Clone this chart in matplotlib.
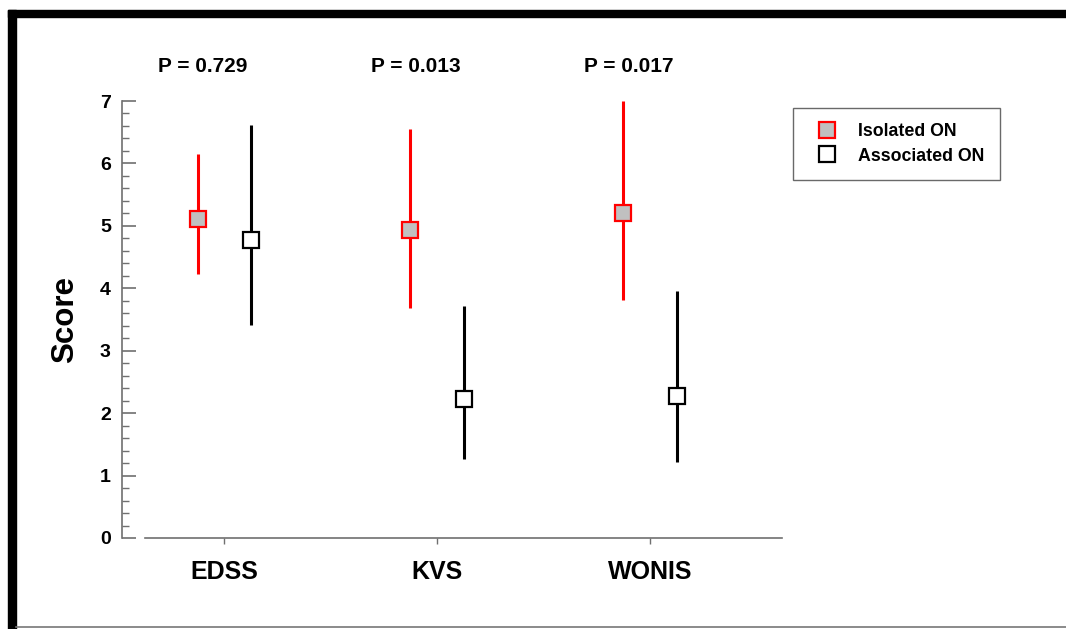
import matplotlib
matplotlib.use("Agg")
import matplotlib.pyplot as plt
from matplotlib.lines import Line2D
from matplotlib.patches import Rectangle
import numpy as np

# --- data ---
categories = ["EDSS", "KVS", "WONIS"]
p_values = ["P = 0.729", "P = 0.013", "P = 0.017"]

iso_mean = [5.11, 4.93, 5.20]
iso_low = [4.23, 3.69, 3.81]
iso_high = [6.15, 6.55, 7.00]

assoc_mean = [4.78, 2.23, 2.28]
assoc_low = [3.41, 1.26, 1.22]
assoc_high = [6.62, 3.71, 3.96]

plt.rcParams["font.family"] = ["Liberation Sans", "DejaVu Sans"]
plt.rcParams["font.weight"] = "bold"

fig = plt.figure(figsize=(10.66, 6.29), dpi=100)
fig.patch.set_facecolor("white")

# frame around the picture
fig.patches.append(Rectangle((8 / 1066, 0), 8 / 1066, 1 - 10 / 629,
                             transform=fig.transFigure, color="black", zorder=0))
fig.patches.append(Rectangle((8 / 1066, 1 - 17 / 629), 1, 7 / 629,
                             transform=fig.transFigure, color="black", zorder=0))
fig.add_artist(Line2D([16 / 1066, 1], [2 / 629, 2 / 629],
                      transform=fig.transFigure, color="#777777", lw=1.2))

ax = fig.add_axes([122 / 1066, 91 / 629, 660 / 1066, 437 / 629])

x = np.arange(1, len(categories) + 1)
off = 0.125

iso_mean = np.array(iso_mean)
assoc_mean = np.array(assoc_mean)
iso_err = [iso_mean - np.array(iso_low), np.array(iso_high) - iso_mean]
assoc_err = [assoc_mean - np.array(assoc_low), np.array(assoc_high) - assoc_mean]

ax.errorbar(x - off, iso_mean, yerr=iso_err, fmt="s", color="red",
            ecolor="red", elinewidth=2.2, capsize=0, markersize=11,
            markerfacecolor="#c0c0c0", markeredgecolor="red",
            markeredgewidth=1.6, clip_on=False, zorder=3)
ax.errorbar(x + off, assoc_mean, yerr=assoc_err, fmt="s", color="black",
            ecolor="black", elinewidth=2.2, capsize=0, markersize=11,
            markerfacecolor="white", markeredgecolor="black",
            markeredgewidth=1.6, clip_on=False, zorder=3)

for xi, p in zip(x, p_values):
    ax.text(xi - 0.1, 7.55, p, ha="center", va="center", fontsize=15,
            fontweight="bold")

ax.set_xlim(0.52, 3.62)
ax.set_ylim(0, 7)

for s in ["top", "right"]:
    ax.spines[s].set_visible(False)
for s in ["left", "bottom"]:
    ax.spines[s].set_color("#707070")
    ax.spines[s].set_linewidth(1.2)
ax.spines["bottom"].set_bounds(0.63, 3.62)

ax.set_yticks(range(0, 8))
ax.set_yticks(np.arange(0, 7.01, 0.2), minor=True)
ax.tick_params(axis="y", which="major", direction="in", length=10,
               width=1.2, color="#707070", labelsize=14, pad=8)
ax.tick_params(axis="y", which="minor", direction="in", length=5,
               width=1.0, color="#707070")
ax.set_xticks(x)
ax.set_xticklabels(categories)
ax.tick_params(axis="x", direction="out", length=4, width=1.0,
               color="#707070", labelsize=18, pad=12)
for lab in ax.get_xticklabels() + ax.get_yticklabels():
    lab.set_fontweight("bold")

ax.set_ylabel("Score", fontsize=22.5, fontweight="bold", labelpad=14)

handles = [
    Line2D([], [], ls="none", marker="s", markersize=11,
           markerfacecolor="#c0c0c0", markeredgecolor="red", markeredgewidth=1.6),
    Line2D([], [], ls="none", marker="s", markersize=11,
           markerfacecolor="white", markeredgecolor="black", markeredgewidth=1.6),
]
leg = fig.legend(handles, ["Isolated ON", "Associated ON"], loc="upper left",
                 bbox_to_anchor=(793 / 1066, 1 - 108 / 629), borderaxespad=0,
                 fancybox=False, frameon=True, prop={"size": 12.8, "weight": "bold"},
                 handletextpad=0.65, borderpad=0.85, labelspacing=0.42,
                 handlelength=2.16)
leg.get_frame().set_edgecolor("#444444")
leg.get_frame().set_linewidth(1.0)

fig.savefig("out.png", dpi=100, facecolor="white")
